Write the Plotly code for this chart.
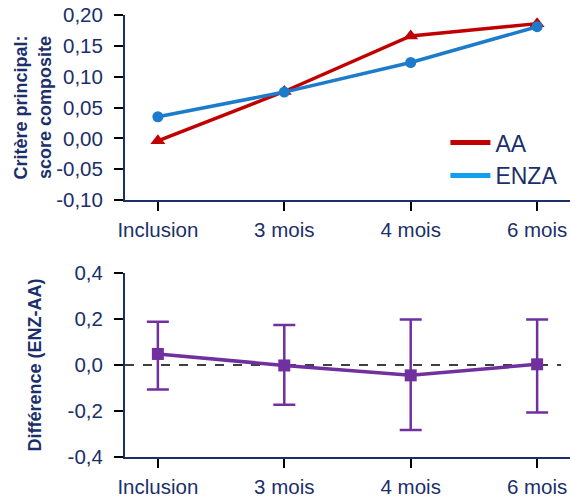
import plotly.graph_objects as go

NAVY = "#1B2F6B"
AA_RED = "#C00000"
ENZA_BLUE = "#1C7BCB"
ENZA_LEGEND = "#12A0EE"
PURPLE = "#7030A0"
FONT = "Liberation Sans, Arial, sans-serif"

visits = ["Inclusion", "3 mois", "4 mois", "6 mois"]
aa_score = [-0.004, 0.076, 0.166, 0.186]
enza_score = [0.035, 0.075, 0.123, 0.181]
diff = [0.048, -0.002, -0.045, 0.003]
diff_upper = [0.188, 0.174, 0.198, 0.198]
diff_lower = [-0.106, -0.173, -0.283, -0.206]

fig = go.Figure()

fig.add_trace(go.Scatter(
    x=visits, y=aa_score, mode="lines+markers", showlegend=False,
    line=dict(color=AA_RED, width=3.5),
    marker=dict(symbol="triangle-up", size=13, color=AA_RED),
    xaxis="x", yaxis="y",
))
fig.add_trace(go.Scatter(
    x=visits, y=enza_score, mode="lines+markers", showlegend=False,
    line=dict(color=ENZA_BLUE, width=3.5),
    marker=dict(symbol="circle", size=11, color=ENZA_BLUE),
    xaxis="x", yaxis="y",
))
# legend-only entries (legend uses flat lines, lighter blue)
fig.add_trace(go.Scatter(x=[None], y=[None], mode="lines", name="AA",
                         line=dict(color=AA_RED, width=5), xaxis="x", yaxis="y"))
fig.add_trace(go.Scatter(x=[None], y=[None], mode="lines", name="ENZA",
                         line=dict(color=ENZA_LEGEND, width=5), xaxis="x", yaxis="y"))

fig.add_trace(go.Scatter(
    x=visits, y=diff, mode="lines+markers", showlegend=False,
    line=dict(color=PURPLE, width=3.5),
    marker=dict(symbol="square", size=12, color=PURPLE),
    error_y=dict(
        type="data", symmetric=False,
        array=[u - d for u, d in zip(diff_upper, diff)],
        arrayminus=[d - l for d, l in zip(diff, diff_lower)],
        color=PURPLE, thickness=2.5, width=11,
    ),
    xaxis="x2", yaxis="y2",
))

fig.add_shape(type="line", xref="x2 domain", yref="y2", x0=0, x1=0.98, y0=0, y1=0,
              line=dict(color="black", width=1.5, dash="dash"), layer="below")

axis_common = dict(
    showline=True, linecolor=NAVY, linewidth=2, showgrid=False, zeroline=False,
    ticks="outside", ticklen=9, tickwidth=1.5, tickcolor="black",
    tickfont=dict(family=FONT, size=20.5, color=NAVY), automargin=False,
)

fig.update_layout(
    width=572, height=498,
    paper_bgcolor="white", plot_bgcolor="white",
    margin=dict(l=125, r=2, t=15, b=41),
    font=dict(family=FONT, color=NAVY),
    xaxis=dict(domain=[0, 1], anchor="y", range=[-0.26, 3.26],
               ticklabelstandoff=1, **axis_common),
    yaxis=dict(domain=[0.5814, 1], anchor="x", range=[-0.10, 0.20],
               tickvals=[-0.10, -0.05, 0, 0.05, 0.10, 0.15, 0.20],
               ticktext=["-0,10", "-0,05", "0,00", "0,05", "0,10", "0,15", "0,20"],
               ticklabelstandoff=7,
               title=dict(text="<b>Critère principal:<br>score composite</b>",
                          font=dict(family=FONT, size=18, color=NAVY), standoff=0),
               **axis_common),
    xaxis2=dict(domain=[0, 1], anchor="y2", range=[-0.26, 3.26],
                ticklabelstandoff=1, **axis_common),
    yaxis2=dict(domain=[0, 0.4163], anchor="x2", range=[-0.4, 0.4],
                tickvals=[-0.4, -0.2, 0, 0.2, 0.4],
                ticktext=["-0,4", "-0,2", "0,0", "0,2", "0,4"],
                ticklabelstandoff=7,
                title=dict(text="<b>Différence (ENZ-AA)</b>",
                           font=dict(family=FONT, size=18, color=NAVY), standoff=21),
                **axis_common),
    legend=dict(x=0.72, y=0.76, xanchor="left", yanchor="top",
                bgcolor="rgba(0,0,0,0)",
                font=dict(family=FONT, size=23, color=NAVY),
                tracegroupgap=0, itemwidth=40),
)

fig.write_html("out.html", config={"displayModeBar": False},
               post_script="document.body.style.margin='0';")
